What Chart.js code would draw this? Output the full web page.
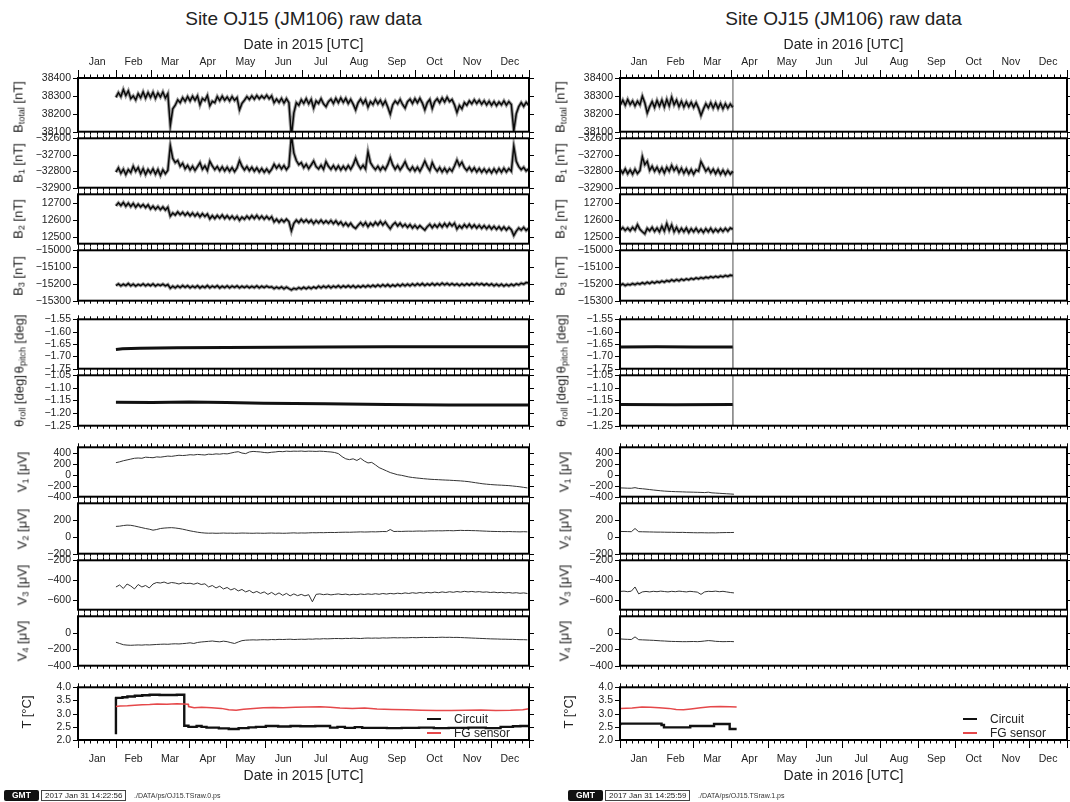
<!DOCTYPE html>
<html>
<head>
<meta charset="utf-8">
<script src="https://cdn.jsdelivr.net/npm/chart.js@4.4.1/dist/chart.umd.min.js"></script>
<style>
  body { margin: 0; width: 1070px; height: 802px; background: #fff; position: relative; overflow: hidden;
         font-family: "Liberation Sans", Arial, Helvetica, sans-serif; color: #222; }
  canvas { position: absolute; }
  .ttl { position: absolute; font-size: 19px; white-space: nowrap; transform: translate(-50%, -50%); }
  .ylab { position: absolute; font-size: 13px; line-height: 1; white-space: nowrap;
          transform: translate(-50%, -50%) rotate(-90deg); }
  .ylab sub { font-size: 9px; vertical-align: -2px; line-height: 0; }
  .leg { position: absolute; font-size: 12px; line-height: 1; white-space: nowrap; transform: translateY(-50%); }
  .lline { position: absolute; width: 14px; height: 2px; }
  .gmt { position: absolute; background: #111; color: #fff; font-size: 8.5px; font-weight: bold; line-height: 11px;
         padding: 0 8px; border-radius: 2px; }
  .stamp { position: absolute; font-size: 8px; line-height: 9px; border: 1px solid #444; padding: 0 3px; background: #fff; }
  .path { position: absolute; font-size: 7px; line-height: 11px; color: #333; }
</style>
</head>
<body>
<script>
// ---- calendar ----
const months = ['Jan', 'Feb', 'Mar', 'Apr', 'May', 'Jun', 'Jul', 'Aug', 'Sep', 'Oct', 'Nov', 'Dec'];
const monthStart2015 = [0, 31, 59, 90, 120, 151, 181, 212, 243, 273, 304, 334, 365];
const monthStart2016 = [0, 31, 60, 91, 121, 152, 182, 213, 244, 274, 305, 335, 366];

// ---- magnetometer components [nT], one sample every 2 days ----
const bStep = 2;
const bStart2015 = 30.7;
const bStart2016 = 0.3;

const btot2015 = [
  38292, 38318, 38296, 38335, 38302, 38328, 38285, 38300, 38278, 38312,
  38290, 38322, 38288, 38318, 38292, 38320, 38286, 38316, 38294, 38322,
  38288, 38312, 38135, 38228, 38248, 38278, 38262, 38290, 38270, 38296,
  38272, 38298, 38276, 38300, 38250, 38286, 38274, 38302, 38245, 38270,
  38262, 38296, 38274, 38298, 38276, 38294, 38272, 38296, 38275, 38290,
  38222, 38258, 38276, 38296, 38280, 38300, 38282, 38302, 38284, 38300,
  38286, 38304, 38284, 38300, 38262, 38282, 38264, 38286, 38260, 38284,
  38262, 38075, 38205, 38262, 38248, 38278, 38258, 38284, 38256, 38280,
  38232, 38272, 38258, 38284, 38256, 38240, 38268, 38282, 38258, 38286,
  38262, 38288, 38264, 38286, 38258, 38280, 38254, 38222, 38262, 38282,
  38256, 38278, 38238, 38268, 38252, 38280, 38256, 38276, 38248, 38272,
  38238, 38198, 38250, 38272, 38256, 38280, 38252, 38232, 38268, 38282,
  38258, 38284, 38262, 38286, 38260, 38222, 38262, 38280, 38230, 38268,
  38284, 38262, 38288, 38266, 38292, 38268, 38280, 38250, 38208, 38246,
  38228, 38262, 38248, 38272, 38256, 38278, 38258, 38276, 38254, 38272,
  38250, 38270, 38248, 38268, 38246, 38266, 38250, 38272, 38248, 38268,
  38252, 38105, 38200, 38240, 38262, 38242, 38264, 38248
];
const b1_2015 = [
  -32805, -32780, -32812, -32788, -32820, -32790, -32808, -32770, -32800, -32778,
  -32815, -32785, -32820, -32790, -32812, -32786, -32818, -32790, -32825, -32792,
  -32815, -32795, -32645, -32722, -32748, -32735, -32770, -32752, -32785, -32765,
  -32792, -32770, -32795, -32772, -32748, -32788, -32768, -32795, -32740, -32768,
  -32790, -32772, -32796, -32774, -32798, -32776, -32800, -32778, -32802, -32780,
  -32735, -32770, -32792, -32772, -32796, -32776, -32800, -32780, -32804, -32784,
  -32806, -32786, -32808, -32788, -32758, -32782, -32762, -32786, -32766, -32790,
  -32770, -32580, -32690, -32735, -32760, -32748, -32778, -32758, -32784, -32762,
  -32738, -32772, -32786, -32764, -32788, -32742, -32770, -32788, -32766, -32790,
  -32768, -32792, -32770, -32790, -32766, -32788, -32762, -32722, -32760, -32784,
  -32764, -32786, -32682, -32748, -32772, -32790, -32770, -32794, -32772, -32790,
  -32760, -32718, -32762, -32788, -32766, -32792, -32770, -32742, -32778, -32796,
  -32774, -32798, -32776, -32800, -32772, -32738, -32772, -32796, -32748, -32780,
  -32800, -32778, -32804, -32782, -32806, -32784, -32800, -32768, -32732, -32766,
  -32745, -32778, -32796, -32776, -32800, -32780, -32804, -32784, -32806, -32786,
  -32808, -32788, -32810, -32786, -32808, -32784, -32806, -32782, -32804, -32784,
  -32800, -32648, -32740, -32772, -32790, -32776, -32798, -32786
];
const b2_2015 = [
  12682, 12700, 12684, 12702, 12680, 12698, 12678, 12696, 12674, 12692,
  12676, 12690, 12672, 12688, 12664, 12680, 12662, 12678, 12660, 12676,
  12658, 12674, 12622, 12640, 12628, 12646, 12630, 12644, 12626, 12642,
  12624, 12640, 12622, 12638, 12618, 12636, 12620, 12634, 12606, 12624,
  12608, 12626, 12610, 12628, 12608, 12624, 12606, 12622, 12604, 12620,
  12598, 12616, 12604, 12622, 12606, 12624, 12608, 12626, 12606, 12622,
  12604, 12620, 12604, 12618, 12588, 12604, 12586, 12602, 12588, 12604,
  12590, 12535, 12580, 12598, 12584, 12602, 12586, 12600, 12584, 12598,
  12578, 12596, 12582, 12598, 12580, 12594, 12580, 12596, 12578, 12594,
  12574, 12588, 12566, 12582, 12564, 12580, 12560, 12550, 12568, 12584,
  12566, 12584, 12560, 12580, 12566, 12586, 12570, 12590, 12570, 12588,
  12566, 12548, 12570, 12584, 12564, 12580, 12560, 12574, 12556, 12572,
  12552, 12568, 12550, 12566, 12552, 12540, 12560, 12574, 12554, 12572,
  12556, 12576, 12558, 12578, 12560, 12580, 12564, 12580, 12546, 12566,
  12552, 12572, 12556, 12574, 12554, 12570, 12552, 12568, 12550, 12566,
  12548, 12564, 12546, 12562, 12544, 12560, 12542, 12558, 12540, 12556,
  12542, 12508, 12534, 12552, 12540, 12556, 12538, 12550
];
const b3_2015 = [
  -15210, -15200, -15212, -15202, -15210, -15198, -15211, -15201, -15213, -15203,
  -15210, -15200, -15212, -15202, -15211, -15200, -15213, -15203, -15210, -15201,
  -15212, -15204, -15226, -15214, -15224, -15212, -15222, -15210, -15221, -15211,
  -15223, -15213, -15222, -15211, -15224, -15214, -15222, -15210, -15223, -15213,
  -15221, -15211, -15224, -15214, -15222, -15212, -15223, -15213, -15221, -15212,
  -15224, -15214, -15222, -15213, -15223, -15214, -15222, -15212, -15224, -15214,
  -15222, -15213, -15221, -15217, -15228, -15219, -15227, -15218, -15229, -15219,
  -15228, -15236, -15226, -15232, -15222, -15230, -15220, -15229, -15219, -15228,
  -15218, -15226, -15214, -15224, -15213, -15222, -15212, -15223, -15213, -15221,
  -15211, -15222, -15212, -15220, -15210, -15221, -15211, -15222, -15212, -15220,
  -15210, -15219, -15209, -15218, -15208, -15217, -15206, -15216, -15205, -15215,
  -15204, -15216, -15206, -15214, -15203, -15213, -15202, -15212, -15201, -15211,
  -15200, -15210, -15199, -15209, -15198, -15210, -15200, -15208, -15197, -15208,
  -15198, -15207, -15196, -15206, -15197, -15207, -15198, -15208, -15200, -15210,
  -15200, -15209, -15199, -15208, -15198, -15207, -15197, -15206, -15198, -15208,
  -15199, -15209, -15200, -15211, -15201, -15212, -15202, -15213, -15203, -15212,
  -15202, -15210, -15200, -15206, -15196, -15202, -15192, -15195
];

const btot2016 = [
  38250, 38276, 38248, 38280, 38252, 38272, 38244, 38270, 38250, 38298,
  38262, 38205, 38240, 38268, 38236, 38274, 38242, 38276, 38238, 38280,
  38244, 38292, 38250, 38276, 38240, 38270, 38238, 38266, 38240, 38264,
  38236, 38262, 38232, 38190, 38226, 38256, 38234, 38262, 38232, 38260,
  38230, 38258, 38228, 38256, 38232, 38254, 38236
];
const b1_2016 = [
  -32790, -32812, -32786, -32815, -32792, -32818, -32788, -32814, -32796, -32712,
  -32760, -32740, -32795, -32770, -32800, -32776, -32806, -32780, -32810, -32776,
  -32800, -32765, -32796, -32774, -32808, -32782, -32812, -32786, -32815, -32790,
  -32818, -32792, -32800, -32742, -32770, -32800, -32782, -32810, -32788, -32815,
  -32790, -32818, -32794, -32820, -32796, -32818, -32800
];
const b2_2016 = [
  12540, 12555, 12538, 12552, 12536, 12556, 12540, 12572, 12545, 12530,
  12518, 12550, 12536, 12556, 12532, 12552, 12530, 12562, 12534, 12578,
  12538, 12570, 12530, 12556, 12528, 12550, 12530, 12552, 12526, 12548,
  12530, 12550, 12528, 12545, 12526, 12548, 12530, 12550, 12528, 12546,
  12530, 12548, 12532, 12550, 12534, 12552, 12545
];
const b3_2016 = [
  -15208, -15200, -15210, -15202, -15206, -15198, -15205, -15196, -15202, -15193,
  -15200, -15190, -15198, -15188, -15195, -15186, -15192, -15183, -15190, -15180,
  -15186, -15176, -15184, -15174, -15182, -15172, -15179, -15170, -15176, -15167,
  -15173, -15164, -15170, -15162, -15168, -15160, -15165, -15157, -15163, -15155,
  -15161, -15153, -15158, -15150, -15156, -15148, -15152
];

// ---- tilt [day, deg] ----
const pitch2015 = [[30.7, -1.672], [36, -1.669], [50, -1.667], [80, -1.665], [120, -1.664], [160, -1.663],
                   [200, -1.662], [250, -1.661], [300, -1.661], [365, -1.661]];
const roll2015 = [[30.7, -1.157], [60, -1.158], [90, -1.156], [120, -1.158], [150, -1.161], [200, -1.163],
                  [250, -1.166], [300, -1.168], [365, -1.168]];
const pitch2016 = [[0.3, -1.662], [30, -1.661], [60, -1.662], [92.3, -1.662]];
const roll2016 = [[0.3, -1.166], [45, -1.167], [92.3, -1.166]];

// instrument recovery swing closing the 2016 record
const swingDays2016 = [92.4, 92.5];
const btotSwing2016 = [38700, 37800];
const b1Swing2016 = [-32400, -33100];
const b2Swing2016 = [12950, 12250];
const b3Swing2016 = [-14800, -15500];
const pitchSwing2016 = [-1.4, -1.9];
const rollSwing2016 = [-0.9, -1.4];

// ---- electrode voltages [uV], one sample every 3 days ----
const vStep = 3;
const vStart2015 = 30.7;
const vStart2016 = 0.3;

const v1_2015 = [
  220, 235, 255, 270, 285, 300, 305, 300, 320, 315,
  310, 325, 320, 330, 340, 335, 345, 355, 350, 355,
  365, 360, 370, 365, 360, 375, 370, 380, 375, 385,
  380, 395, 410, 420, 395, 385, 415, 425, 420, 415,
  405, 400, 410, 415, 425, 420, 430, 425, 430, 428,
  432, 425, 430, 428, 425, 430, 426, 420, 415, 405,
  385, 330, 290, 275, 290, 260, 300, 250, 215, 225,
  180, 130, 100, 70, 40, 20, 0, -10, -25, -40,
  -50, -58, -65, -72, -78, -83, -87, -90, -94, -97,
  -100, -104, -108, -112, -118, -125, -135, -145, -155, -165,
  -172, -178, -183, -187, -190, -194, -198, -205, -212, -220,
  -230, -240
];
const v2_2015 = [
  125, 128, 135, 140, 138, 130, 120, 110, 100, 92,
  80, 88, 100, 105, 108, 110, 106, 100, 92, 82,
  72, 64, 56, 50, 46, 44, 45, 43, 44, 46,
  44, 45, 43, 44, 46, 45, 44, 43, 45, 44,
  43, 45, 46, 44, 45, 43, 44, 46, 48, 45,
  47, 46, 48, 50, 49, 51, 50, 52, 53, 52,
  54, 55, 56, 55, 57, 58, 60, 58, 59, 61,
  60, 62, 64, 63, 88, 64, 66, 65, 67, 68,
  67, 69, 70, 68, 70, 72, 71, 73, 72, 74,
  75, 73, 76, 78, 76, 77, 75, 74, 72, 70,
  68, 66, 65, 64, 63, 62, 64, 62, 61, 60,
  62, 60
];
const v3_2015 = [
  -470, -450, -485, -440, -460, -490, -445, -470, -455, -480,
  -440, -425, -430, -420, -435, -425, -430, -440, -428, -436,
  -432, -442, -430, -445, -438, -470, -455, -480, -462, -490,
  -475, -500, -485, -510, -495, -520, -505, -530, -515, -535,
  -520, -545, -525, -550, -530, -555, -535, -560, -540, -558,
  -545, -560, -548, -620, -545, -540, -548, -542, -550, -545,
  -540, -547, -542, -550, -544, -548, -541, -546, -540, -545,
  -538, -544, -536, -542, -535, -540, -533, -538, -530, -536,
  -528, -534, -526, -532, -524, -530, -522, -528, -520, -526,
  -518, -524, -516, -522, -514, -520, -515, -521, -517, -523,
  -520, -526, -522, -528, -524, -530, -526, -532, -528, -534,
  -530, -536
];
const v4_2015 = [
  -115, -130, -145, -150, -152, -150, -148, -150, -146, -148,
  -145, -142, -140, -138, -140, -136, -134, -136, -132, -128,
  -122, -130, -118, -112, -108, -104, -100, -106, -110, -102,
  -108, -120, -130, -112, -96, -90, -88, -86, -88, -85,
  -84, -86, -82, -84, -80, -82, -80, -78, -82, -80,
  -78, -80, -76, -78, -74, -76, -72, -74, -72, -70,
  -70, -72, -68, -70, -66, -68, -70, -66, -64, -66,
  -64, -66, -62, -64, -62, -60, -62, -60, -62, -60,
  -58, -60, -58, -56, -58, -56, -58, -56, -54, -56,
  -55, -57, -56, -58, -60, -62, -64, -66, -68, -70,
  -72, -74, -75, -76, -78, -78, -80, -80, -82, -84,
  -84, -86
];

const v1_2016 = [
  -240, -242, -245, -246, -235, -250, -255, -262, -270, -278,
  -285, -292, -298, -302, -305, -308, -310, -312, -315, -316,
  -318, -320, -322, -325, -318, -330, -334, -338, -342, -346,
  -350, -355
];
const v2_2016 = [
  65, 64, 63, 62, 100, 62, 61, 60, 59, 58,
  57, 57, 56, 55, 55, 54, 53, 54, 52, 51,
  50, 49, 50, 49, 48, 49, 48, 50, 51, 52,
  52, 53
];
const v3_2016 = [
  -515, -512, -518, -512, -470, -540, -520, -515, -520, -514,
  -518, -512, -516, -520, -514, -518, -512, -516, -520, -514,
  -518, -522, -545, -520, -514, -516, -512, -518, -514, -520,
  -526, -530
];
const v4_2016 = [
  -75, -78, -80, -82, -50, -84, -86, -88, -90, -92,
  -95, -98, -100, -103, -105, -106, -107, -108, -108, -107,
  -106, -108, -105, -100, -95, -98, -104, -106, -108, -107,
  -106, -108
];

// ---- temperatures [day, degC] ----
const circuit2015 = [[30.7, 2.22], [30.9, 3.58], [36, 3.6], [40, 3.62], [46, 3.65], [52, 3.68], [58, 3.7], [66, 3.72],
  [80, 3.71], [86, 3.72], [89.4, 2.54], [96, 2.5], [100, 2.53], [104, 2.5], [114, 2.47], [122, 2.44], [130, 2.42],
  [138, 2.45], [144, 2.48], [152, 2.5], [162, 2.53], [172, 2.51], [180, 2.53], [192, 2.52], [204, 2.53], [210, 2.47],
  [216, 2.5], [224, 2.46], [230, 2.49], [236, 2.46], [250, 2.46], [262, 2.45], [276, 2.46], [288, 2.47], [300, 2.45],
  [316, 2.46], [330, 2.47], [342, 2.45], [352, 2.5], [358, 2.52], [365, 2.53]];
const fg2015 = [[30.7, 3.27], [34, 3.29], [40, 3.3], [46, 3.32], [52, 3.34], [58, 3.35], [64, 3.37], [72, 3.36],
  [80, 3.38], [89.2, 3.36], [89.5, 3.27], [94, 3.22], [100, 3.24], [108, 3.22], [116, 3.2], [122, 3.15], [128, 3.13],
  [134, 3.17], [142, 3.2], [150, 3.22], [158, 3.23], [166, 3.22], [176, 3.24], [186, 3.25], [196, 3.26], [204, 3.24],
  [212, 3.21], [222, 3.2], [232, 3.21], [242, 3.18], [254, 3.16], [266, 3.15], [278, 3.13], [290, 3.12], [302, 3.12],
  [314, 3.13], [326, 3.14], [338, 3.12], [350, 3.13], [360, 3.15], [365, 3.19]];
const circuit2016 = [[0.3, 2.56], [3.5, 2.62], [34, 2.62], [36, 2.57], [38, 2.48], [57.5, 2.48], [58.5, 2.53],
  [77, 2.53], [78, 2.61], [89.8, 2.61], [91.5, 2.42], [95.5, 2.42]];
const fg2016 = [[0.3, 3.2], [10, 3.21], [18, 3.25], [25, 3.24], [32, 3.22], [40, 3.2], [46, 3.16], [52, 3.15],
  [58, 3.18], [66, 3.22], [74, 3.26], [82, 3.27], [90, 3.26], [95.5, 3.25]];

// ---- y axis annotations ----
const btotTicks = [38100, 38200, 38300, 38400];
const b1Ticks = [-32900, -32800, -32700, -32600];
const b2Ticks = [12500, 12600, 12700];
const b3Ticks = [-15300, -15200, -15100, -15000];
const pitchTicks = [-1.75, -1.70, -1.65, -1.60, -1.55];
const rollTicks = [-1.25, -1.20, -1.15, -1.10, -1.05];
const v1Ticks = [-400, -200, 0, 200, 400];
const v2Ticks = [-200, 0, 200];
const v3Ticks = [-600, -400, -200];
const v4Ticks = [-400, -200, 0];
const tTicks = [2.0, 2.5, 3.0, 3.5, 4.0];

// ------------------------------------------------------------------
Chart.defaults.font.family = '"Liberation Sans", Arial, Helvetica, sans-serif';
Chart.defaults.color = '#222';

const INK = '#111';
const RED = '#e5484a';

const sampled = (start, step, vals) => vals.map((v, i) => ({x: start + i * step, y: v}));
const pairs = arr => arr.map(([x, y]) => ({x, y}));
const trace = (data, extra) => Object.assign({
  data, borderColor: INK, borderWidth: 1, pointRadius: 0, fill: false, tension: 0
}, extra || {});
// dense minute data: narrow dark halo under the sampled trace
const band = data => [
  trace(data, {borderColor: 'rgba(0,0,0,0.38)', borderWidth: 3.5}),
  trace(data, {borderWidth: 1.5})
];
const swing = (data, vals) => {
  const last = data[data.length - 1];
  return trace([last, ...swingDays2016.map((d, i) => ({x: d, y: vals[i]}))], {borderColor: '#8a8a8a', borderWidth: 1});
};

const b15 = v => sampled(bStart2015, bStep, v);
const b16 = v => sampled(bStart2016, bStep, v);
const v15 = v => sampled(vStart2015, vStep, v);
const v16 = v => sampled(vStart2016, vStep, v);

const panelData = {
  2015: {
    btot: band(b15(btot2015)),
    b1: band(b15(b1_2015)),
    b2: band(b15(b2_2015)),
    b3: band(b15(b3_2015)),
    pitch: [trace(pairs(pitch2015), {borderWidth: 3})],
    roll: [trace(pairs(roll2015), {borderWidth: 3})],
    v1: [trace(v15(v1_2015), {borderColor: '#333'})],
    v2: [trace(v15(v2_2015), {borderColor: '#333'})],
    v3: [trace(v15(v3_2015), {borderColor: '#333'})],
    v4: [trace(v15(v4_2015), {borderColor: '#333'})],
    t: [trace(pairs(fg2015), {borderColor: RED, borderWidth: 1.5}),
        trace(pairs(circuit2015), {borderWidth: 2.4, stepped: 'after'})]
  },
  2016: {
    btot: [...band(b16(btot2016)), swing(b16(btot2016), btotSwing2016)],
    b1: [...band(b16(b1_2016)), swing(b16(b1_2016), b1Swing2016)],
    b2: [...band(b16(b2_2016)), swing(b16(b2_2016), b2Swing2016)],
    b3: [...band(b16(b3_2016)), swing(b16(b3_2016), b3Swing2016)],
    pitch: [trace(pairs(pitch2016), {borderWidth: 3}), swing(pairs(pitch2016), pitchSwing2016)],
    roll: [trace(pairs(roll2016), {borderWidth: 3}), swing(pairs(roll2016), rollSwing2016)],
    v1: [trace(v16(v1_2016), {borderColor: '#333'})],
    v2: [trace(v16(v2_2016), {borderColor: '#333'})],
    v3: [trace(v16(v3_2016), {borderColor: '#333'})],
    v4: [trace(v16(v4_2016), {borderColor: '#333'})],
    t: [trace(pairs(fg2016), {borderColor: RED, borderWidth: 1.5}),
        trace(pairs(circuit2016), {borderWidth: 2.4, stepped: 'after'})]
  }
};

// panel stack, shared by both years
const rows = [
  {id: 'btot', top: 78, bottom: 135, min: 38100, max: 38400, ticks: btotTicks, dec: 0, lab: 'B<sub>total</sub> [nT]', labOff: 60},
  {id: 'b1', top: 135, bottom: 191, min: -32900, max: -32600, ticks: b1Ticks, dec: 0, lab: 'B<sub>1</sub> [nT]', labOff: 60},
  {id: 'b2', top: 191, bottom: 247, min: 12460, max: 12750, ticks: b2Ticks, dec: 0, lab: 'B<sub>2</sub> [nT]', labOff: 60},
  {id: 'b3', top: 247, bottom: 304, min: -15300, max: -15000, ticks: b3Ticks, dec: 0, lab: 'B<sub>3</sub> [nT]', labOff: 60},
  {id: 'pitch', top: 316, bottom: 372, min: -1.75, max: -1.55, ticks: pitchTicks, dec: 2, lab: 'θ<sub>pitch</sub> [deg]', labOff: 59},
  {id: 'roll', top: 372, bottom: 429, min: -1.25, max: -1.05, ticks: rollTicks, dec: 2, lab: 'θ<sub>roll</sub> [deg]', labOff: 59},
  {id: 'v1', top: 444, bottom: 500, min: -400, max: 500, ticks: v1Ticks, dec: 0, lab: 'V<sub>1</sub> [μV]', labOff: 56},
  {id: 'v2', top: 500, bottom: 557, min: -200, max: 400, ticks: v2Ticks, dec: 0, lab: 'V<sub>2</sub> [μV]', labOff: 56},
  {id: 'v3', top: 557, bottom: 613, min: -700, max: -200, ticks: v3Ticks, dec: 0, lab: 'V<sub>3</sub> [μV]', labOff: 56},
  {id: 'v4', top: 613, bottom: 669, min: -400, max: 200, ticks: v4Ticks, dec: 0, lab: 'V<sub>4</sub> [μV]', labOff: 56},
  {id: 't', top: 684, bottom: 740, min: 2, max: 4, ticks: tTicks, dec: 1, lab: 'T [°C]', labOff: 52}
];

const columns = [
  {year: 2015, left: 78, right: 529, starts: monthStart2015, center: 303.5,
   stamp: '2017 Jan 31 14:22:56', file: './DATA/ps/OJ15.TSraw.0.ps', footX: 4, legX: 427},
  {year: 2016, left: 620, right: 1067, starts: monthStart2016, center: 843.5,
   stamp: '2017 Jan 31 14:25:59', file: './DATA/ps/OJ15.TSraw.1.ps', footX: 568, legX: 963}
];

const fmt = dec => v => Number(v).toFixed(dec).replace('-', '\u2212');

// GMT style frame: heavy box, outward ticks on all four sides
const gmtFrame = {
  id: 'gmtFrame',
  afterDraw(chart, args, o) {
    const {ctx, chartArea: a, scales: {x, y}} = chart;
    ctx.save();
    ctx.strokeStyle = '#000';
    ctx.lineWidth = 1;
    ctx.beginPath();
    const mark = (d, up, down) => {
      const px = Math.round(x.getPixelForValue(d)) + 0.5;
      ctx.moveTo(px, a.top); ctx.lineTo(px, a.top - up);
      ctx.moveTo(px, a.bottom); ctx.lineTo(px, a.bottom + down);
    };
    o.major.forEach(d => mark(d, o.topMajor, o.botMajor));
    o.minor.forEach(d => mark(d, o.topMinor, o.botMinor));
    y.ticks.forEach(t => {
      const py = Math.round(y.getPixelForValue(t.value)) + 0.5;
      ctx.moveTo(a.left, py); ctx.lineTo(a.left - 5, py);
      ctx.moveTo(a.right, py); ctx.lineTo(a.right + 5, py);
    });
    ctx.stroke();
    ctx.lineWidth = 2;
    ctx.strokeRect(a.left, a.top, a.right - a.left, a.bottom - a.top);
    ctx.restore();
  }
};

function addText(cls, html, left, top) {
  const el = document.createElement('div');
  el.className = cls;
  el.innerHTML = html;
  el.style.left = left + 'px';
  el.style.top = top + 'px';
  document.body.appendChild(el);
  return el;
}

function addPanel(col, row, idx) {
  const first = idx === 0;
  const last = idx === rows.length - 1;
  const axisW = 75, padR = 15;
  const padT = first ? 60 : 10;
  const padB = last ? 50 : 10;
  const starts = col.starts;
  const mids = months.map((m, i) => (starts[i] + starts[i + 1]) / 2);
  const minor = [];
  for (let m = 0; m < 12; m++) {
    for (const k of [5, 10, 15, 20, 25]) minor.push(starts[m] + k);
  }

  const cv = document.createElement('canvas');
  cv.width = col.right - col.left + axisW + padR;
  cv.height = row.bottom - row.top + padT + padB;
  cv.style.left = (col.left - axisW) + 'px';
  cv.style.top = (row.top - padT) + 'px';
  document.body.appendChild(cv);

  new Chart(cv, {
    type: 'line',
    data: {datasets: panelData[col.year][row.id]},
    options: {
      responsive: false,
      animation: false,
      events: [],
      layout: {padding: {top: first ? 0 : padT, bottom: last ? 0 : padB, left: 0, right: padR}},
      plugins: {
        legend: {display: false},
        tooltip: {enabled: false},
        gmtFrame: {
          major: starts, minor,
          topMajor: first ? 8 : 4, topMinor: first ? 3.5 : 3,
          botMajor: last ? 8 : 4, botMinor: last ? 3.5 : 3
        }
      },
      scales: {
        x: {
          type: 'linear', min: 0, max: starts[12], bounds: 'data',
          display: first || last,
          position: first ? 'top' : 'bottom',
          grid: {display: false, drawTicks: false},
          border: {display: false},
          afterBuildTicks: s => { s.ticks = mids.map(value => ({value})); },
          afterFit: s => { if (first) s.height = padT; else if (last) s.height = padB; },
          ticks: {autoSkip: false, maxRotation: 0, padding: first ? 9.7 : 12.7, font: {size: 10.5},
                  callback: (v, i) => months[i]},
          title: {display: true, text: 'Date in ' + col.year + ' [UTC]', font: {size: 14},
                  padding: first ? {top: 18.6, bottom: 0} : {top: 0, bottom: 5.6}}
        },
        y: {
          type: 'linear', min: row.min, max: row.max, bounds: 'data',
          grid: {display: false, drawTicks: false},
          border: {display: false},
          afterBuildTicks: s => { s.ticks = row.ticks.map(value => ({value})); },
          afterFit: s => { s.width = axisW; },
          ticks: {autoSkip: false, padding: 7, font: {size: 10.5}, callback: fmt(row.dec)}
        }
      }
    },
    plugins: [gmtFrame]
  });

  addText('ylab', row.lab, col.left - row.labOff, (row.top + row.bottom) / 2);
}

columns.forEach(col => {
  addText('ttl', 'Site OJ15 (JM106) raw data', col.center, 19);
  rows.forEach((row, i) => addPanel(col, row, i));

  // temperature legend
  const lx = col.legX;
  [['Circuit', INK, 718.5], ['FG sensor', RED, 733]].forEach(([name, color, y]) => {
    const ln = addText('lline', '', lx, y - 1);
    ln.style.background = color;
    addText('leg', name, lx + 27, y);
  });

  // plot stamp
  addText('gmt', 'GMT', col.footX, 790);
  addText('stamp', col.stamp, col.footX + 37, 790);
  addText('path', col.file, col.footX + 130, 790);
});
</script>
</body>
</html>
